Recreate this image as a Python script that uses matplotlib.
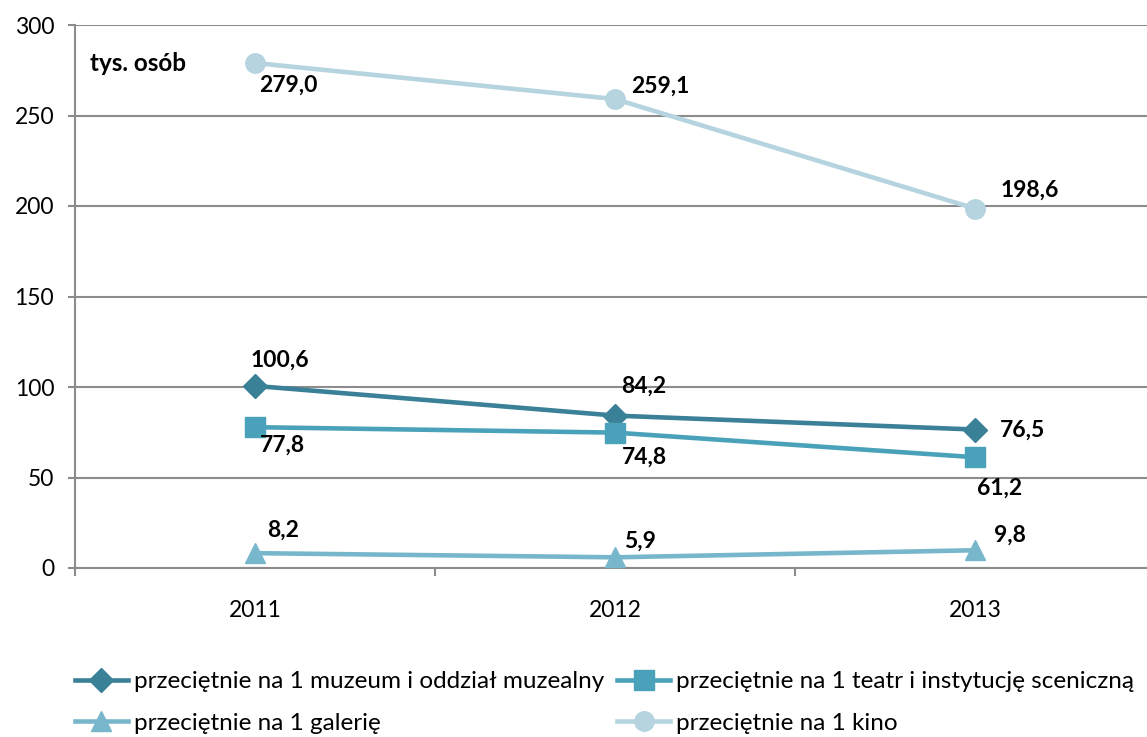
import matplotlib
matplotlib.use("Agg")
import matplotlib.pyplot as plt

years = ["2011", "2012", "2013"]
muzeum = [100.6, 84.2, 76.5]
teatr = [77.8, 74.8, 61.2]
galeria = [8.2, 5.9, 9.8]
kino = [279.0, 259.1, 198.6]
names = ["przeciętnie na 1 muzeum i oddział muzealny",
         "przeciętnie na 1 teatr i instytucję sceniczną",
         "przeciętnie na 1 galerię",
         "przeciętnie na 1 kino"]
yticks = [0, 50, 100, 150, 200, 250, 300]

plt.rcParams['font.family'] = ['Lato', 'DejaVu Sans']

fig = plt.figure(figsize=(11.47, 7.37), dpi=100)
ax = fig.add_axes([75/1147, 1-568/737, (1155-75)/1147, (568-25)/737])

x = list(range(len(years)))
series = [
    (muzeum, "#3A8097", "D", 12, [(25, 26), (29, 29), (47, -1)]),
    (teatr, "#4AA2BA", "s", 15, [(27, -18), (29, -25), (25, -31)]),
    (galeria, "#78B7CB", "^", 15, [(28, 23), (25, 16), (35, 15)]),
    (kino, "#B5D4DF", "o", 14, [(33, -22), (45, 13), (55, 18)]),
]
handles = []
for (vals, col, mk, ms, offs), nm in zip(series, names):
    h, = ax.plot(x, vals, color=col, lw=3.3, marker=mk, markersize=ms,
                 markeredgecolor=col, markerfacecolor=col, label=nm, zorder=3)
    handles.append(h)
    for xi, v, (dx, dy) in zip(x, vals, offs):
        ax.annotate(f"{v:.1f}".replace(".", ","), (xi, v), xytext=(dx, dy),
                    textcoords="offset pixels", ha="center", va="center",
                    fontsize=16.5, fontweight="bold", color="black", zorder=4)

ax.set_xlim(-0.5, 2.5)
ax.set_ylim(0, 300)
ax.set_yticks(yticks)
ax.set_xticks(x)
ax.set_xticklabels(years)
ax.set_xticks([-0.5, 0.5, 1.5, 2.5], minor=True)
ax.tick_params(axis="x", which="major", length=0, pad=23, labelsize=16.5)
ax.tick_params(axis="x", which="minor", length=6, width=1.5, color="#8C8C8C")
ax.tick_params(axis="y", length=5, width=1.5, color="#8C8C8C", labelsize=16.5, pad=10)
ax.grid(axis="y", color="#8C8C8C", lw=1.5, zorder=0)
ax.set_axisbelow(True)
for s in ["top", "right"]:
    ax.spines[s].set_visible(False)
for s in ["left", "bottom"]:
    ax.spines[s].set_color("#8C8C8C")
    ax.spines[s].set_linewidth(1.5)

ax.text(15/1080, 0.93, "tys. osób", transform=ax.transAxes, fontsize=17.5,
        fontweight="bold", ha="left", va="center")

order = [0, 2, 1, 3]
fig.legend(handles=[handles[i] for i in order], labels=[names[i] for i in order],
           loc="upper left", bbox_to_anchor=(75/1147, 1-671/737),
           ncol=2, frameon=False, fontsize=17.5, handlelength=2.18,
           handletextpad=0.25, columnspacing=0.53, labelspacing=0.86,
           borderaxespad=0, borderpad=0)

fig.savefig("out.png", dpi=100)
